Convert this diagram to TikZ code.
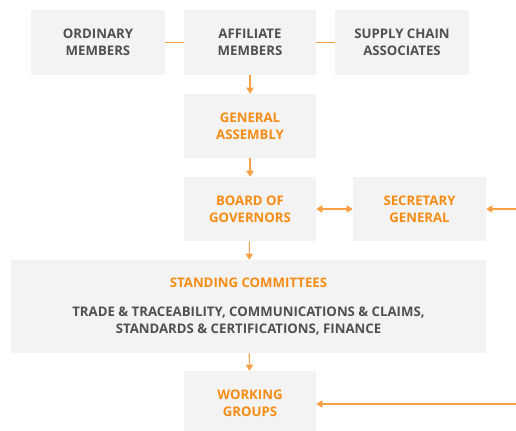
\documentclass[tikz,border=0pt]{standalone}
\usepackage{fontspec}
\setmainfont{Open Sans}
\usetikzlibrary{arrows.meta}
\definecolor{boxgray}{RGB}{243,243,243}
\definecolor{txtgray}{RGB}{80,80,80}
\definecolor{orng}{RGB}{247,140,20}
\definecolor{lineorng}{RGB}{249,160,70}

\tikzset{
	box/.style={fill=boxgray, inner sep=0pt, align=center, text=txtgray,
		font=\bfseries\fontsize{9.9}{12.75}\selectfont},
	hbox/.style={box, text=orng},
	link/.style={draw=lineorng, line width=0.8pt},
	arr/.style={link, -{Triangle[length=4.5pt,width=5.5pt]}},
	darr/.style={link, {Triangle[length=4.5pt,width=5.5pt]}-{Triangle[length=4.5pt,width=5.5pt]}}
}

\begin{document}
\begin{tikzpicture}[x=0.75pt,y=-0.75pt]
		\useasboundingbox (0,0) rectangle (516,430);
		% members row
		\node[box, minimum width=100.5pt, minimum height=48.75pt] (ordinary) at (98,42.5) {ORDINARY\\MEMBERS};
		\node[box, minimum width=99pt, minimum height=48.75pt] (affiliate) at (250,42.5) {AFFILIATE\\MEMBERS};
		\node[box, minimum width=100.5pt, minimum height=48.75pt] (supply) at (402,42.5) {SUPPLY CHAIN\\ASSOCIATES};
		% governing bodies
		\node[hbox, minimum width=99pt, minimum height=48pt] (assembly) at (250,126) {GENERAL\\ASSEMBLY};
		\node[hbox, minimum width=99pt, minimum height=48pt] (board) at (250,209) {BOARD OF\\GOVERNORS};
		\node[hbox, minimum width=99.75pt, minimum height=48pt] (secretary) at (419.5,209) {SECRETARY\\GENERAL};
		\node[box, minimum width=356.25pt, minimum height=69.75pt] (committees) at (248.5,306.5)
			{{\color{orng}STANDING COMMITTEES}\\[9pt]TRADE \& TRACEABILITY, COMMUNICATIONS \& CLAIMS,\\STANDARDS \& CERTIFICATIONS, FINANCE};
		\node[hbox, minimum width=99pt, minimum height=48pt] (working) at (250,403) {WORKING\\GROUPS};
		% free ends on the right
		\coordinate (secin) at (516,209);
		\coordinate (wgin) at (516,404);
		% connectors
		\draw[link] (ordinary) -- (affiliate);
		\draw[link] (affiliate) -- (supply);
		\draw[arr] (affiliate) -- (assembly);
		\draw[arr] (assembly) -- (board);
		\draw[darr] (board) -- (secretary);
		\draw[arr] (secin) -- (secretary);
		\draw[arr] (board) -- (committees);
		\draw[arr] (committees) -- (working);
		\draw[arr] (wgin) -- (wgin -| working.east);
	\end{tikzpicture}
\end{document}
